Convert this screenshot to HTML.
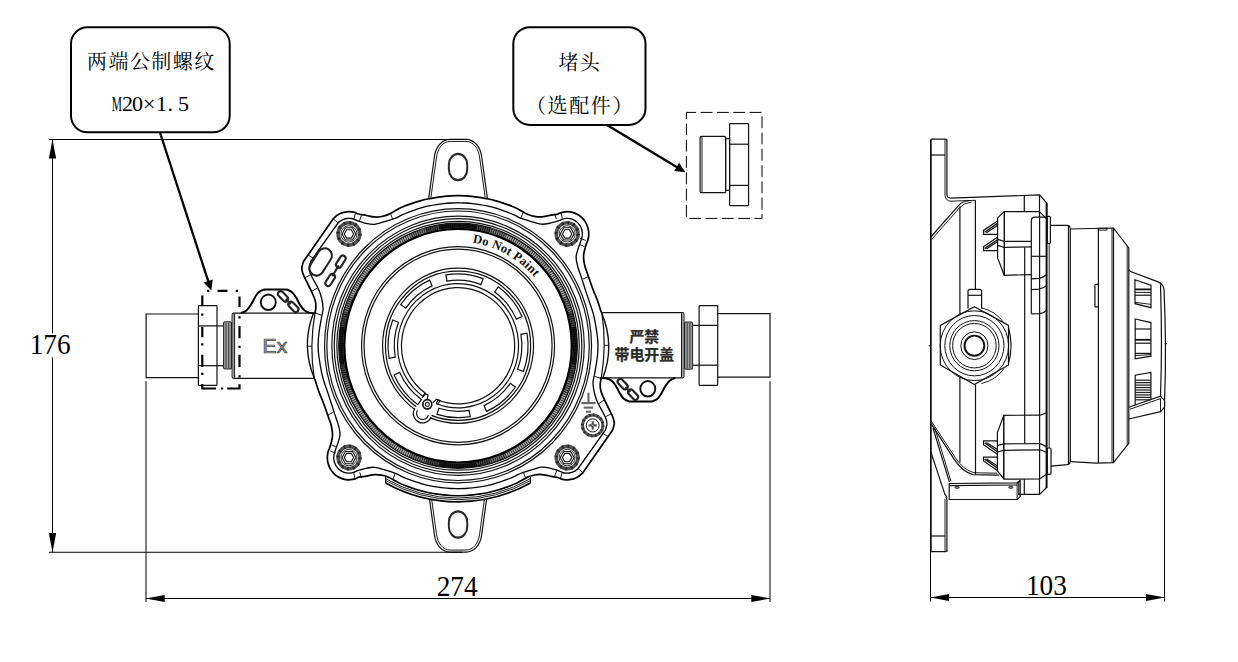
<!DOCTYPE html>
<html lang="zh"><head><meta charset="utf-8"><title>Outline drawing</title>
<style>
html,body{margin:0;padding:0;background:#fff}
body{width:1238px;height:662px;overflow:hidden}
svg{display:block}
.l{fill:none;stroke:#111;stroke-width:1.2}
.t{fill:none;stroke:#111;stroke-width:.95}
.h{fill:none;stroke:#000;stroke-width:1.7}
.w{fill:#fff;stroke:#111;stroke-width:1.2}
.k{fill:#000;stroke:none}
.dim{fill:none;stroke:#000;stroke-width:1}
.bx{fill:#fff;stroke:#000;stroke-width:2}
.ld{fill:none;stroke:#000;stroke-width:2.3}
.cn{font-family:"Liberation Serif","Noto Serif CJK SC",serif;font-size:20px;fill:#000;font-weight:400}
.num{font-family:"Liberation Serif",serif;font-size:27.3px;fill:#000}
</style></head><body>
<svg width="1238" height="662" viewBox="0 0 1238 662">
<rect x="0" y="0" width="1238" height="662" fill="#fff"/>
<g id="front" transform="translate(458.05 345.75) scale(1 1.0270)">
<path class="h" d="M0 -146.1C1.27 -146.07 5.1 -146.03 7.65 -145.9C10.19 -145.77 12.74 -145.57 15.27 -145.3C17.81 -145.03 20.34 -144.7 22.86 -144.3C25.37 -143.9 27.88 -143.44 30.38 -142.91C32.87 -142.38 35.35 -141.78 37.81 -141.12C40.28 -140.46 42.72 -139.74 45.15 -138.95C47.57 -138.16 49.98 -137.31 52.36 -136.4C54.74 -135.48 56.58 -134.87 59.42 -133.47C62.27 -132.07 66.61 -129.25 69.45 -127.99C72.29 -126.74 74.08 -126.37 76.45 -125.95C78.82 -125.53 81.15 -125.3 83.65 -125.46C86.15 -125.62 88.9 -126.5 91.45 -126.92C94 -127.34 97 -127.51 98.96 -127.97C100.92 -128.43 101.75 -129.27 103.21 -129.68C104.67 -130.09 106.2 -130.36 107.72 -130.46C109.23 -130.55 110.79 -130.49 112.29 -130.26C113.79 -130.04 115.3 -129.65 116.72 -129.11C118.14 -128.57 119.54 -127.87 120.81 -127.05C122.09 -126.23 123.3 -125.25 124.37 -124.17C125.45 -123.1 126.43 -121.89 127.25 -120.61C128.07 -119.34 128.77 -117.94 129.31 -116.52C129.85 -115.1 130.24 -113.59 130.46 -112.09C130.69 -110.59 130.75 -109.03 130.66 -107.52C130.56 -106 130.29 -104.47 129.88 -103.01C129.47 -101.55 128.89 -101.26 128.17 -98.76C127.45 -96.25 125.82 -91.33 125.55 -87.97C125.28 -84.62 125.85 -81.78 126.55 -78.63C127.25 -75.48 128.35 -73.06 129.75 -69.08C131.15 -65.11 133.37 -58.86 134.95 -54.77C136.53 -50.68 137.87 -48.26 139.25 -44.55C140.63 -40.83 142.58 -34.49 143.25 -32.47"/>
<path class="h" d="M0 -146.1C1.27 -146.07 5.1 -146.03 7.65 -145.9C10.19 -145.77 12.74 -145.57 15.27 -145.3C17.81 -145.03 20.34 -144.7 22.86 -144.3C25.37 -143.9 27.88 -143.44 30.38 -142.91C32.87 -142.38 35.35 -141.78 37.81 -141.12C40.28 -140.46 42.72 -139.74 45.15 -138.95C47.57 -138.16 49.98 -137.31 52.36 -136.4C54.74 -135.48 56.58 -134.87 59.42 -133.47C62.27 -132.07 66.61 -129.25 69.45 -127.99C72.29 -126.74 74.08 -126.37 76.45 -125.95C78.82 -125.53 81.15 -125.3 83.65 -125.46C86.15 -125.62 88.9 -126.5 91.45 -126.92C94 -127.34 97 -127.51 98.96 -127.97C100.92 -128.43 101.75 -129.27 103.21 -129.68C104.67 -130.09 106.2 -130.36 107.72 -130.46C109.23 -130.55 110.79 -130.49 112.29 -130.26C113.79 -130.04 115.3 -129.65 116.72 -129.11C118.14 -128.57 119.54 -127.87 120.81 -127.05C122.09 -126.23 123.3 -125.25 124.37 -124.17C125.45 -123.1 126.43 -121.89 127.25 -120.61C128.07 -119.34 128.77 -117.94 129.31 -116.52C129.85 -115.1 130.24 -113.59 130.46 -112.09C130.69 -110.59 130.75 -109.03 130.66 -107.52C130.56 -106 130.29 -104.47 129.88 -103.01C129.47 -101.55 128.89 -101.26 128.17 -98.76C127.45 -96.25 125.82 -91.33 125.55 -87.97C125.28 -84.62 125.85 -81.78 126.55 -78.63C127.25 -75.48 128.35 -73.06 129.75 -69.08C131.15 -65.11 133.37 -58.86 134.95 -54.77C136.53 -50.68 137.87 -48.26 139.25 -44.55C140.63 -40.83 142.58 -34.49 143.25 -32.47" transform="rotate(180)"/>
<path class="l" d="M143.45 -32.28 Q157.45 0 144.45 32.18" style="stroke-width:1.4" />
<path class="l" d="M143.85 -31.68 Q148.85 0 143.05 32.18"/>
<path class="l" d="M143.45 -32.28 Q157.45 0 144.45 32.18" style="stroke-width:1.4" transform="rotate(180)"/>
<path class="l" d="M143.85 -31.68 Q148.85 0 143.05 32.18" transform="rotate(180)"/>
<path class="h" d="M143.05 32.08C142.9 32.94 142.18 35.25 142.15 37.24C142.12 39.24 142.17 41.56 142.85 44.06C143.53 46.56 144.9 49.32 146.25 52.24C147.6 55.16 149.5 58.65 150.95 61.59C152.4 64.52 154.07 67.51 154.95 69.86C155.83 72.22 156.32 73.68 156.25 75.71C156.18 77.73 154.83 80.98 154.55 82.04L124.64 123.9C124.21 124.28 123 125.47 122.1 126.15C121.2 126.83 120.24 127.44 119.24 127.97C118.25 128.5 117.2 128.96 116.13 129.32C115.07 129.69 113.96 129.98 112.85 130.17C111.74 130.37 110.6 130.48 109.48 130.5C108.35 130.52 107.21 130.45 106.09 130.29C104.98 130.13 103.86 129.89 102.78 129.56C101.71 129.23 101.52 128.77 99.63 128.31C97.74 127.86 94.11 127.32 91.45 126.83C88.79 126.33 86.15 125.53 83.65 125.37C81.15 125.2 78.82 125.43 76.45 125.85C74.08 126.27 72.29 126.63 69.45 127.9C66.61 129.17 62.27 132.05 59.42 133.47C56.58 134.89 54.74 135.48 52.36 136.4C49.98 137.31 47.57 138.16 45.15 138.95C42.72 139.74 40.28 140.46 37.81 141.12C35.35 141.78 32.87 142.38 30.38 142.91C27.88 143.44 25.37 143.9 22.86 144.3C20.34 144.7 17.81 145.03 15.27 145.3C12.74 145.57 10.19 145.77 7.65 145.9C5.1 146.03 1.27 146.07 0 146.1"/>
<path class="h" d="M143.05 32.08C142.9 32.94 142.18 35.25 142.15 37.24C142.12 39.24 142.17 41.56 142.85 44.06C143.53 46.56 144.9 49.32 146.25 52.24C147.6 55.16 149.5 58.65 150.95 61.59C152.4 64.52 154.07 67.51 154.95 69.86C155.83 72.22 156.32 73.68 156.25 75.71C156.18 77.73 154.83 80.98 154.55 82.04L124.64 123.9C124.21 124.28 123 125.47 122.1 126.15C121.2 126.83 120.24 127.44 119.24 127.97C118.25 128.5 117.2 128.96 116.13 129.32C115.07 129.69 113.96 129.98 112.85 130.17C111.74 130.37 110.6 130.48 109.48 130.5C108.35 130.52 107.21 130.45 106.09 130.29C104.98 130.13 103.86 129.89 102.78 129.56C101.71 129.23 101.52 128.77 99.63 128.31C97.74 127.86 94.11 127.32 91.45 126.83C88.79 126.33 86.15 125.53 83.65 125.37C81.15 125.2 78.82 125.43 76.45 125.85C74.08 126.27 72.29 126.63 69.45 127.9C66.61 129.17 62.27 132.05 59.42 133.47C56.58 134.89 54.74 135.48 52.36 136.4C49.98 137.31 47.57 138.16 45.15 138.95C42.72 139.74 40.28 140.46 37.81 141.12C35.35 141.78 32.87 142.38 30.38 142.91C27.88 143.44 25.37 143.9 22.86 144.3C20.34 144.7 17.81 145.03 15.27 145.3C12.74 145.57 10.19 145.77 7.65 145.9C5.1 146.03 1.27 146.07 0 146.1" transform="rotate(180)"/>
<path class="h" d="M0 -139.2C1.21 -139.17 4.86 -139.14 7.29 -139.01C9.71 -138.88 12.14 -138.69 14.55 -138.44C16.97 -138.18 19.38 -137.87 21.78 -137.49C24.17 -137.11 26.57 -136.66 28.94 -136.16C31.32 -135.65 33.68 -135.09 36.03 -134.46C38.37 -133.83 40.71 -133.14 43.02 -132.39C45.32 -131.64 47.62 -130.82 49.88 -129.95C52.15 -129.08 54.4 -128.15 56.62 -127.17C58.84 -126.18 59.97 -125.19 63.2 -124.03C66.42 -122.87 72.54 -121.15 75.95 -120.2C79.36 -119.26 80.98 -118.5 83.65 -118.35C86.32 -118.21 89.05 -118.76 91.95 -119.33C94.85 -119.9 98.95 -121.11 101.05 -121.79C103.14 -122.47 103.3 -123.01 104.5 -123.39C105.71 -123.77 106.99 -124.01 108.25 -124.08C109.51 -124.15 110.82 -124.06 112.05 -123.81C113.29 -123.57 114.53 -123.15 115.67 -122.61C116.8 -122.06 117.91 -121.35 118.87 -120.54C119.84 -119.73 120.73 -118.77 121.46 -117.75C122.19 -116.72 122.82 -115.57 123.27 -114.4C123.73 -113.22 124.04 -111.95 124.19 -110.7C124.34 -109.45 124.33 -108.14 124.17 -106.89C124 -105.64 124.18 -106.36 123.19 -103.21C122.21 -100.05 118.86 -92.23 118.25 -87.97C117.64 -83.72 118.63 -81.42 119.55 -77.65C120.47 -73.89 122.45 -69.28 123.75 -65.38C125.05 -61.49 126.2 -57.76 127.35 -54.28C128.5 -50.81 129.28 -48.6 130.65 -44.55C132.02 -40.49 134.13 -35.62 135.55 -29.94C136.97 -24.26 138.42 -15.45 139.15 -10.47C139.88 -5.49 139.95 -3.78 139.95 -0.05C139.95 3.68 139.72 7.34 139.15 11.93C138.58 16.52 137.25 23.53 136.55 27.51C135.85 31.48 135 32.78 134.95 35.78C134.9 38.79 135.5 42.31 136.25 45.52C137 48.73 138.08 51.98 139.45 55.06C140.82 58.15 143.03 61.34 144.45 64.02C145.87 66.7 147.22 69.02 147.95 71.13C148.68 73.24 148.98 74.78 148.85 76.68C148.72 78.58 147.43 81.55 147.15 82.52L120.03 119.46C119.73 119.73 118.85 120.59 118.19 121.08C117.54 121.57 116.84 122.01 116.12 122.38C115.4 122.76 114.63 123.08 113.86 123.34C113.09 123.59 112.28 123.79 111.48 123.91C110.67 124.04 109.85 124.1 109.03 124.1C108.22 124.1 107.39 124.03 106.59 123.89C105.79 123.76 104.99 123.56 104.21 123.29C103.44 123.03 104.01 123 101.96 122.32C99.92 121.64 95 119.91 91.95 119.23C88.9 118.55 86.32 118.11 83.65 118.26C80.98 118.4 79.36 119.15 75.95 120.11C72.54 121.07 66.42 122.85 63.2 124.03C59.97 125.2 58.84 126.18 56.62 127.17C54.4 128.15 52.15 129.08 49.88 129.95C47.62 130.82 45.32 131.64 43.02 132.39C40.71 133.14 38.37 133.83 36.03 134.46C33.68 135.09 31.32 135.65 28.94 136.16C26.57 136.66 24.17 137.11 21.78 137.49C19.38 137.87 16.97 138.18 14.55 138.44C12.14 138.69 9.71 138.88 7.29 139.01C4.86 139.14 1.21 139.17 0 139.2" style="stroke-width:1.3"/>
<path class="h" d="M0 -139.2C1.21 -139.17 4.86 -139.14 7.29 -139.01C9.71 -138.88 12.14 -138.69 14.55 -138.44C16.97 -138.18 19.38 -137.87 21.78 -137.49C24.17 -137.11 26.57 -136.66 28.94 -136.16C31.32 -135.65 33.68 -135.09 36.03 -134.46C38.37 -133.83 40.71 -133.14 43.02 -132.39C45.32 -131.64 47.62 -130.82 49.88 -129.95C52.15 -129.08 54.4 -128.15 56.62 -127.17C58.84 -126.18 59.97 -125.19 63.2 -124.03C66.42 -122.87 72.54 -121.15 75.95 -120.2C79.36 -119.26 80.98 -118.5 83.65 -118.35C86.32 -118.21 89.05 -118.76 91.95 -119.33C94.85 -119.9 98.95 -121.11 101.05 -121.79C103.14 -122.47 103.3 -123.01 104.5 -123.39C105.71 -123.77 106.99 -124.01 108.25 -124.08C109.51 -124.15 110.82 -124.06 112.05 -123.81C113.29 -123.57 114.53 -123.15 115.67 -122.61C116.8 -122.06 117.91 -121.35 118.87 -120.54C119.84 -119.73 120.73 -118.77 121.46 -117.75C122.19 -116.72 122.82 -115.57 123.27 -114.4C123.73 -113.22 124.04 -111.95 124.19 -110.7C124.34 -109.45 124.33 -108.14 124.17 -106.89C124 -105.64 124.18 -106.36 123.19 -103.21C122.21 -100.05 118.86 -92.23 118.25 -87.97C117.64 -83.72 118.63 -81.42 119.55 -77.65C120.47 -73.89 122.45 -69.28 123.75 -65.38C125.05 -61.49 126.2 -57.76 127.35 -54.28C128.5 -50.81 129.28 -48.6 130.65 -44.55C132.02 -40.49 134.13 -35.62 135.55 -29.94C136.97 -24.26 138.42 -15.45 139.15 -10.47C139.88 -5.49 139.95 -3.78 139.95 -0.05C139.95 3.68 139.72 7.34 139.15 11.93C138.58 16.52 137.25 23.53 136.55 27.51C135.85 31.48 135 32.78 134.95 35.78C134.9 38.79 135.5 42.31 136.25 45.52C137 48.73 138.08 51.98 139.45 55.06C140.82 58.15 143.03 61.34 144.45 64.02C145.87 66.7 147.22 69.02 147.95 71.13C148.68 73.24 148.98 74.78 148.85 76.68C148.72 78.58 147.43 81.55 147.15 82.52L120.03 119.46C119.73 119.73 118.85 120.59 118.19 121.08C117.54 121.57 116.84 122.01 116.12 122.38C115.4 122.76 114.63 123.08 113.86 123.34C113.09 123.59 112.28 123.79 111.48 123.91C110.67 124.04 109.85 124.1 109.03 124.1C108.22 124.1 107.39 124.03 106.59 123.89C105.79 123.76 104.99 123.56 104.21 123.29C103.44 123.03 104.01 123 101.96 122.32C99.92 121.64 95 119.91 91.95 119.23C88.9 118.55 86.32 118.11 83.65 118.26C80.98 118.4 79.36 119.15 75.95 120.11C72.54 121.07 66.42 122.85 63.2 124.03C59.97 125.2 58.84 126.18 56.62 127.17C54.4 128.15 52.15 129.08 49.88 129.95C47.62 130.82 45.32 131.64 43.02 132.39C40.71 133.14 38.37 133.83 36.03 134.46C33.68 135.09 31.32 135.65 28.94 136.16C26.57 136.66 24.17 137.11 21.78 137.49C19.38 137.87 16.97 138.18 14.55 138.44C12.14 138.69 9.71 138.88 7.29 139.01C4.86 139.14 1.21 139.17 0 139.2" style="stroke-width:1.3" transform="rotate(180)"/>
<line class="t" x1="65.35" y1="-130.43" x2="62.95" y2="-124.49"/>
<line class="t" x1="-65.35" y1="130.43" x2="-62.95" y2="124.49"/>
<line class="t" x1="96.55" y1="-128.68" x2="98.35" y2="-123.22"/>
<line class="t" x1="-96.55" y1="128.68" x2="-98.35" y2="123.22"/>
<line class="t" x1="102.85" y1="-130.23" x2="104.25" y2="-124"/>
<line class="t" x1="-102.85" y1="130.23" x2="-104.25" y2="124"/>
<line class="t" x1="127.85" y1="-102.48" x2="122.15" y2="-104.53"/>
<line class="t" x1="-127.85" y1="102.48" x2="-122.15" y2="104.53"/>
<line class="t" x1="126.35" y1="-96.54" x2="120.95" y2="-98.88"/>
<line class="t" x1="-126.35" y1="96.54" x2="-120.95" y2="98.88"/>
<line class="t" x1="130.55" y1="-67.43" x2="124.55" y2="-64.8"/>
<line class="t" x1="-130.55" y1="67.43" x2="-124.55" y2="64.8"/>
<line class="t" x1="150.55" y1="-0.44" x2="146.35" y2="-0.44"/>
<line class="t" x1="-150.55" y1="0.44" x2="-146.35" y2="0.44"/>
<line class="t" x1="143.15" y1="31.99" x2="136.35" y2="29.65"/>
<line class="t" x1="-143.15" y1="-31.99" x2="-136.35" y2="-29.65"/>
<line class="t" x1="146.55" y1="52.63" x2="140.25" y2="56.62"/>
<line class="t" x1="-146.55" y1="-52.63" x2="-140.25" y2="-56.62"/>
<line class="t" x1="153.45" y1="66.16" x2="146.95" y2="69.38"/>
<line class="t" x1="-153.45" y1="-66.16" x2="-146.95" y2="-69.38"/>
<line class="t" x1="149.95" y1="88.36" x2="143.45" y2="84.57"/>
<line class="t" x1="-149.95" y1="-88.36" x2="-143.45" y2="-84.57"/>
<line class="t" x1="124.45" y1="123.32" x2="120.15" y2="119.62"/>
<line class="t" x1="-124.45" y1="-123.32" x2="-120.15" y2="-119.62"/>
<line class="t" x1="102.55" y1="128.97" x2="104.25" y2="122.93"/>
<line class="t" x1="-102.55" y1="-128.97" x2="-104.25" y2="-122.93"/>
<line class="t" x1="96.55" y1="127.22" x2="98.55" y2="121.57"/>
<line class="t" x1="-96.55" y1="-127.22" x2="-98.55" y2="-121.57"/>
<line class="t" x1="65.15" y1="122.83" x2="67.55" y2="128.58"/>
<line class="t" x1="-65.15" y1="-122.83" x2="-67.55" y2="-128.58"/>
<path class="l" d="M-29.35 -143.48 L-23.75 -183.3C-22.6 -193.93 -16 -200.93 -8 -200.93L8 -200.93C16 -200.93 22.6 -193.93 23.75 -183.3L29.35 -143.48"/>
<path class="t" d="M-27.15 -144.26 L-21.65 -182.81C-20.6 -192.43 -15 -198.93 -8 -198.93L8 -198.93C15 -198.93 20.6 -192.43 21.65 -182.81L27.15 -144.26"/>
<rect class="l" style="stroke-width:2;stroke:#2a2a2a" x="-9.2" y="-186.85" width="18.4" height="25.6" rx="9.2" ry="10.5" />
<path class="l" d="M-29.35 -143.48 L-23.75 -183.3C-22.6 -193.93 -16 -200.93 -8 -200.93L8 -200.93C16 -200.93 22.6 -193.93 23.75 -183.3L29.35 -143.48" transform="rotate(180)"/>
<path class="t" d="M-27.15 -144.26 L-21.65 -182.81C-20.6 -192.43 -15 -198.93 -8 -198.93L8 -198.93C15 -198.93 20.6 -192.43 21.65 -182.81L27.15 -144.26" transform="rotate(180)"/>
<rect class="l" style="stroke-width:2;stroke:#2a2a2a" x="-9.2" y="-186.85" width="18.4" height="25.6" rx="9.2" ry="10.5" transform="rotate(180)"/>
<path class="k" d="M72.4 133.54 A151.9 151.9 0 0 1 -72.4 133.54 L-72.4 127.93 A147 147 0 0 0 72.4 127.93 Z" style="fill:#fff"/>
<path class="t" d="M72.4 129.43 A148.3 148.3 0 0 1 -72.4 129.43"/>
<path class="t" d="M72.4 131.26 A149.9 149.9 0 0 1 -72.4 131.26"/>
<path class="h" d="M72.4 133.54 A151.9 151.9 0 0 1 -72.4 133.54"/>
<line class="l" x1="72.4" y1="126.9" x2="72.4" y2="133.94"/>
<line class="l" x1="-72.4" y1="126.9" x2="-72.4" y2="133.94"/>
<circle class="l" cx="0" cy="0" r="133.5"/>
<circle class="l" cx="0" cy="0" r="131.2"/>
<circle class="l" cx="0" cy="0" r="126.2"/>
<circle class="l" cx="0" cy="0" r="123.8"/>
<circle class="l" cx="0" cy="0" r="121.2"/>
<circle class="l" cx="0" cy="0" r="117.1" style="stroke:#a8a8a8;stroke-width:4.4"/>
<circle class="l" cx="0" cy="0" r="117.1" style="stroke:#2a2a2a;stroke-width:4.4;stroke-dasharray:0.8 1.4"/>
<path class="l" d="M-47.63 -106.98 A117.1 117.1 0 0 1 47.63 -106.98" style="stroke:#000;stroke-width:4.4;opacity:0.3"/>
<path class="l" d="M-32.28 -112.56 A117.1 117.1 0 0 1 32.28 -112.56" style="stroke:#000;stroke-width:4.4;opacity:0.4"/>
<path class="l" d="M-18.32 -115.66 A117.1 117.1 0 0 1 18.32 -115.66" style="stroke:#000;stroke-width:4.4;opacity:0.7"/>
<path class="l" d="M106.98 -47.63 A117.1 117.1 0 0 1 106.98 47.63" style="stroke:#000;stroke-width:4.4;opacity:0.3"/>
<path class="l" d="M112.56 -32.28 A117.1 117.1 0 0 1 112.56 32.28" style="stroke:#000;stroke-width:4.4;opacity:0.4"/>
<path class="l" d="M115.66 -18.32 A117.1 117.1 0 0 1 115.66 18.32" style="stroke:#000;stroke-width:4.4;opacity:0.7"/>
<path class="l" d="M47.63 106.98 A117.1 117.1 0 0 1 -47.63 106.98" style="stroke:#000;stroke-width:4.4;opacity:0.3"/>
<path class="l" d="M32.28 112.56 A117.1 117.1 0 0 1 -32.28 112.56" style="stroke:#000;stroke-width:4.4;opacity:0.4"/>
<path class="l" d="M18.32 115.66 A117.1 117.1 0 0 1 -18.32 115.66" style="stroke:#000;stroke-width:4.4;opacity:0.7"/>
<path class="l" d="M-106.98 47.63 A117.1 117.1 0 0 1 -106.98 -47.63" style="stroke:#000;stroke-width:4.4;opacity:0.3"/>
<path class="l" d="M-112.56 32.28 A117.1 117.1 0 0 1 -112.56 -32.28" style="stroke:#000;stroke-width:4.4;opacity:0.4"/>
<path class="l" d="M-115.66 18.32 A117.1 117.1 0 0 1 -115.66 -18.32" style="stroke:#000;stroke-width:4.4;opacity:0.7"/>
<circle class="l" cx="0" cy="0" r="119.3"/>
<circle class="l" cx="0" cy="0" r="113.8" style="stroke:#000;stroke-width:2.4"/>
<circle class="l" cx="0" cy="0" r="96.5"/>
<circle class="l" cx="0" cy="0" r="94"/>
<circle class="l" cx="0" cy="0" r="75.5"/>
<circle class="l" cx="0" cy="0" r="72.6"/>
<path class="l" d="M-34.7 49.56 A60.5 60.5 0 1 1 -21.68 56.48"/>
<path class="l" d="M-32.46 46.36 A56.6 56.6 0 1 1 -20.28 52.84"/>
<path class="l" d="M-12.16 -68.94 A70 70 0 0 1 25.09 -65.35 L22.86 -59.56 A63.8 63.8 0 0 0 -11.08 -62.83 Z"/>
<path class="l" d="M40.15 -57.34 A70 70 0 0 1 63.95 -28.47 L58.28 -25.95 A63.8 63.8 0 0 0 36.59 -52.26 Z"/>
<path class="l" d="M68.94 -12.16 A70 70 0 0 1 65.35 25.09 L59.56 22.86 A63.8 63.8 0 0 0 62.83 -11.08 Z"/>
<path class="l" d="M57.34 40.15 A70 70 0 0 1 28.47 63.95 L25.95 58.28 A63.8 63.8 0 0 0 52.26 36.59 Z"/>
<path class="l" d="M12.16 68.94 A70 70 0 0 1 -21.05 66.76 L-19.19 60.85 A63.8 63.8 0 0 0 11.08 62.83 Z"/>
<path class="l" d="M-40.15 57.34 A70 70 0 0 1 -63.95 28.47 L-58.28 25.95 A63.8 63.8 0 0 0 -36.59 52.26 Z"/>
<path class="l" d="M-68.94 12.16 A70 70 0 0 1 -65.35 -25.09 L-59.56 -22.86 A63.8 63.8 0 0 0 -62.83 11.08 Z"/>
<path class="l" d="M-57.34 -40.15 A70 70 0 0 1 -28.47 -63.95 L-25.95 -58.28 A63.8 63.8 0 0 0 -52.26 -36.59 Z"/>
<circle class="k" cx="-35.45" cy="65.87" r="9.3" style="fill:#fff"/>
<path class="l" d="M-43.16 60.67 A9.3 9.3 0 1 0 -26.83 69.36"/>
<path class="l" d="M-40.65 62.87 A6 6 0 1 0 -29.68 67.53"/>
<line class="l" x1="-32.46" y1="46.36" x2="-34.7" y2="49.56"/>
<line class="l" x1="-20.28" y1="52.84" x2="-21.68" y2="56.48"/>
<circle class="w" cx="-30.75" cy="57.01" r="4.5" style="stroke-width:1.7"/>
<circle class="l" cx="-30.75" cy="57.01" r="2" style="stroke-width:1"/>
<path class="l" d="M-35.95 50.81 l2.6 -4.2 l3.2 1.2 l-0.6 5.2"/>
<path class="l" d="M-25.15 55.61 l3.6 -3.6 l3.6 1.4 l-2.6 3.8"/>
<circle class="l" cx="109.1" cy="-108.9" r="10.9" style="stroke:#505050;stroke-width:3.5"/>
<circle class="l" cx="109.1" cy="-108.9" r="10.9" style="stroke:#262626;stroke-width:3.5;stroke-dasharray:1.7 4.007"/>
<circle class="w" cx="109.1" cy="-108.9" r="8" style="stroke-width:.85"/>
<path class="l" d="M116 -108.9L112.55 -102.92L105.65 -102.92L102.2 -108.9L105.65 -114.88L112.55 -114.88Z" style="stroke-width:1.1"/>
<path class="l" d="M113.8 -108.9L111.45 -104.83L106.75 -104.83L104.4 -108.9L106.75 -112.97L111.45 -112.97Z" style="stroke-width:1.1"/>
<circle class="l" cx="109.1" cy="108.9" r="10.9" style="stroke:#505050;stroke-width:3.5"/>
<circle class="l" cx="109.1" cy="108.9" r="10.9" style="stroke:#262626;stroke-width:3.5;stroke-dasharray:1.7 4.007"/>
<circle class="w" cx="109.1" cy="108.9" r="8" style="stroke-width:.85"/>
<path class="l" d="M116 108.9L112.55 114.88L105.65 114.88L102.2 108.9L105.65 102.92L112.55 102.92Z" style="stroke-width:1.1"/>
<path class="l" d="M113.8 108.9L111.45 112.97L106.75 112.97L104.4 108.9L106.75 104.83L111.45 104.83Z" style="stroke-width:1.1"/>
<circle class="l" cx="-109.1" cy="-108.9" r="10.9" style="stroke:#505050;stroke-width:3.5"/>
<circle class="l" cx="-109.1" cy="-108.9" r="10.9" style="stroke:#262626;stroke-width:3.5;stroke-dasharray:1.7 4.007"/>
<circle class="w" cx="-109.1" cy="-108.9" r="8" style="stroke-width:.85"/>
<path class="l" d="M-102.2 -108.9L-105.65 -102.92L-112.55 -102.92L-116 -108.9L-112.55 -114.88L-105.65 -114.88Z" style="stroke-width:1.1"/>
<path class="l" d="M-104.4 -108.9L-106.75 -104.83L-111.45 -104.83L-113.8 -108.9L-111.45 -112.97L-106.75 -112.97Z" style="stroke-width:1.1"/>
<circle class="l" cx="-109.1" cy="108.9" r="10.9" style="stroke:#505050;stroke-width:3.5"/>
<circle class="l" cx="-109.1" cy="108.9" r="10.9" style="stroke:#262626;stroke-width:3.5;stroke-dasharray:1.7 4.007"/>
<circle class="w" cx="-109.1" cy="108.9" r="8" style="stroke-width:.85"/>
<path class="l" d="M-102.2 108.9L-105.65 114.88L-112.55 114.88L-116 108.9L-112.55 102.92L-105.65 102.92Z" style="stroke-width:1.1"/>
<path class="l" d="M-104.4 108.9L-106.75 112.97L-111.45 112.97L-113.8 108.9L-111.45 104.83L-106.75 104.83Z" style="stroke-width:1.1"/>
<path class="l" d="M-259.65 -30.92L-311.95 -30.92L-311.95 30.96L-259.65 30.96"/>
<rect class="l" x="-259.65" y="-39" width="18.6" height="77.6" rx="0.8"/>
<line class="l" x1="-259.65" y1="-19.33" x2="-234.45" y2="-19.33"/>
<line class="l" x1="-259.65" y1="19.43" x2="-234.45" y2="19.43"/>
<rect class="l" x="-234.45" y="-23.22" width="8" height="45.76" rx="1.4" style="stroke:#333;fill:#dcdcdc"/>
<line class="l" x1="-232.85" y1="-22.62" x2="-232.85" y2="21.94" style="stroke:#3a3a3a;stroke-width:.95"/>
<line class="l" x1="-231.25" y1="-22.62" x2="-231.25" y2="21.94" style="stroke:#3a3a3a;stroke-width:.95"/>
<line class="l" x1="-229.65" y1="-22.62" x2="-229.65" y2="21.94" style="stroke:#3a3a3a;stroke-width:.95"/>
<line class="l" x1="-228.05" y1="-22.62" x2="-228.05" y2="21.94" style="stroke:#3a3a3a;stroke-width:.95"/>
<path class="l" d="M-141.75 -31.69 L-224.35 -31.69 Q-225.85 -31.69 -225.85 -30.19 L-225.85 30.29 Q-225.85 31.79 -224.35 31.79 L-143.45 31.79"/>
<rect class="k" x="-225.55" y="-30.89" width="2.1" height="61.89" style="fill:#9a9a9a"/>
<line class="t" x1="-223.45" y1="-31.19" x2="-223.45" y2="31.29"/>
<path class="h" d="M-217.25 -31.69C-216.3 -32.15 -213.23 -33.04 -211.55 -34.42C-209.87 -35.8 -208.62 -37.75 -207.15 -39.97C-205.68 -42.19 -204.08 -45.7 -202.75 -47.76C-201.42 -49.82 -200.53 -51.22 -199.15 -52.34C-197.77 -53.46 -195.72 -54.09 -194.45 -54.48C-193.18 -54.87 -192.03 -54.64 -191.55 -54.67L-173.55 -54.67C-173.07 -54.64 -171.95 -54.93 -170.65 -54.48C-169.35 -54.02 -167.18 -53.18 -165.75 -51.95C-164.32 -50.71 -163.38 -49.19 -162.05 -47.08C-160.72 -44.97 -159.2 -41.42 -157.75 -39.29C-156.3 -37.16 -154.8 -35.49 -153.35 -34.32C-151.9 -33.15 -150.53 -32.72 -149.05 -32.28C-147.57 -31.84 -145.22 -31.79 -144.45 -31.69" style="stroke-width:1.95"/>
<circle class="l" cx="-189.75" cy="-42.31" r="7.5" style="stroke-width:1.9"/>
<rect class="l" style="stroke-width:2.1;stroke:#222" x="-177.75" y="-54.05" width="5.4" height="12" rx="2.7" transform="rotate(-45 -175.05 -48.05)"/>
<rect class="l" style="stroke-width:2.1;stroke:#222" x="-167.35" y="-43.83" width="5.4" height="12" rx="2.7" transform="rotate(-45 -164.65 -37.83)"/>
<line class="l" x1="-172.34" y1="-45.39" x2="-167.36" y2="-40.49" style="stroke-width:2.1;stroke:#222"/>
<g transform="rotate(180) translate(0 0.4)">
<path class="l" d="M-259.65 -30.92L-311.95 -30.92L-311.95 30.96L-259.65 30.96"/>
<rect class="l" x="-259.65" y="-39" width="18.6" height="77.6" rx="0.8"/>
<line class="l" x1="-259.65" y1="-19.33" x2="-234.45" y2="-19.33"/>
<line class="l" x1="-259.65" y1="19.43" x2="-234.45" y2="19.43"/>
<rect class="l" x="-234.45" y="-23.22" width="8" height="45.76" rx="1.4" style="stroke:#333;fill:#dcdcdc"/>
<line class="l" x1="-232.85" y1="-22.62" x2="-232.85" y2="21.94" style="stroke:#3a3a3a;stroke-width:.95"/>
<line class="l" x1="-231.25" y1="-22.62" x2="-231.25" y2="21.94" style="stroke:#3a3a3a;stroke-width:.95"/>
<line class="l" x1="-229.65" y1="-22.62" x2="-229.65" y2="21.94" style="stroke:#3a3a3a;stroke-width:.95"/>
<line class="l" x1="-228.05" y1="-22.62" x2="-228.05" y2="21.94" style="stroke:#3a3a3a;stroke-width:.95"/>
<path class="l" d="M-141.75 -31.69 L-224.35 -31.69 Q-225.85 -31.69 -225.85 -30.19 L-225.85 30.29 Q-225.85 31.79 -224.35 31.79 L-143.45 31.79"/>
<rect class="k" x="-225.55" y="-30.89" width="2.1" height="61.89" style="fill:#9a9a9a"/>
<line class="t" x1="-223.45" y1="-31.19" x2="-223.45" y2="31.29"/>
<path class="h" d="M-217.25 -31.69C-216.3 -32.15 -213.23 -33.04 -211.55 -34.42C-209.87 -35.8 -208.62 -37.75 -207.15 -39.97C-205.68 -42.19 -204.08 -45.7 -202.75 -47.76C-201.42 -49.82 -200.53 -51.22 -199.15 -52.34C-197.77 -53.46 -195.72 -54.09 -194.45 -54.48C-193.18 -54.87 -192.03 -54.64 -191.55 -54.67L-173.55 -54.67C-173.07 -54.64 -171.95 -54.93 -170.65 -54.48C-169.35 -54.02 -167.18 -53.18 -165.75 -51.95C-164.32 -50.71 -163.38 -49.19 -162.05 -47.08C-160.72 -44.97 -159.2 -41.42 -157.75 -39.29C-156.3 -37.16 -154.8 -35.49 -153.35 -34.32C-151.9 -33.15 -150.53 -32.72 -149.05 -32.28C-147.57 -31.84 -145.22 -31.79 -144.45 -31.69" style="stroke-width:1.95"/>
<circle class="l" cx="-189.75" cy="-42.31" r="7.5" style="stroke-width:1.9"/>
<rect class="l" style="stroke-width:2.1;stroke:#222" x="-177.75" y="-54.05" width="5.4" height="12" rx="2.7" transform="rotate(-45 -175.05 -48.05)"/>
<rect class="l" style="stroke-width:2.1;stroke:#222" x="-167.35" y="-43.83" width="5.4" height="12" rx="2.7" transform="rotate(-45 -164.65 -37.83)"/>
<line class="l" x1="-172.34" y1="-45.39" x2="-167.36" y2="-40.49" style="stroke-width:2.1;stroke:#222"/>
</g>
<rect class="l" style="stroke-width:2;stroke:#222" x="-144.5" y="-96.14" width="14.2" height="29.09" rx="7.1" transform="rotate(33.28 -137.4 -81.6)"/>
<rect class="l" style="stroke-width:2.1;stroke:#222" x="-120.05" y="-88.44" width="5.6" height="13" rx="2.8" transform="rotate(33.28 -117.25 -81.94)"/>
<rect class="l" style="stroke-width:2.1;stroke:#222" x="-130.65" y="-70.52" width="5.6" height="13" rx="2.8" transform="rotate(33.28 -127.85 -64.02)"/>
<line class="l" x1="-119.44" y1="-78.24" x2="-125.66" y2="-67.72" style="stroke-width:2.1;stroke:#222"/>
<circle class="l" cx="134.65" cy="77.56" r="10.2" style="stroke:#585858;stroke-width:2.9"/>
<circle class="l" cx="134.65" cy="77.56" r="10.2" style="stroke:#2a2a2a;stroke-width:2.9;stroke-dasharray:1.5 2.505"/>
<circle class="w" cx="134.65" cy="77.56" r="6.4" style="stroke-width:.95"/>
<line class="l" x1="130.55" y1="77.56" x2="138.75" y2="77.56" style="stroke-width:2.1;stroke:#4a4a4a"/>
<line class="l" x1="134.65" y1="73.46" x2="134.65" y2="81.66" style="stroke-width:2.1;stroke:#4a4a4a"/>
<circle class="k" cx="134.65" cy="77.56" r="0.7" style="fill:#ddd"/>
<line class="l" x1="130.45" y1="45.64" x2="130.45" y2="55.84" style="stroke:#666;stroke-width:2.1"/>
<line class="l" x1="123.35" y1="55.84" x2="137.55" y2="55.84" style="stroke:#666;stroke-width:2.1"/>
<line class="l" x1="125.75" y1="60.24" x2="135.15" y2="60.24" style="stroke:#666;stroke-width:2.1"/>
<line class="l" x1="127.95" y1="64.24" x2="132.95" y2="64.24" style="stroke:#666;stroke-width:2.1"/>
</g>
<path id="dnp" d="M438.05 243.65 A101.4 104.1 0 0 1 559.45 345.75" fill="none" stroke="none"/>
<text style="font-family:'Liberation Serif',serif;font-weight:700;font-size:12.6px;fill:#111"><textPath href="#dnp" startOffset="34.6" textLength="72.5" lengthAdjust="spacing">Do Not Paint</textPath></text>
<text x="262.6" y="353" style="font-family:'Liberation Sans',sans-serif;font-size:19.5px;fill:#9a9a9a;stroke:#4a4a4a;stroke-width:.7" textLength="24.6" lengthAdjust="spacingAndGlyphs">Ex</text>
<text x="644.3" y="341.7" text-anchor="middle" style="font-family:'Liberation Sans','Noto Sans CJK SC',sans-serif;font-weight:700;font-size:14.9px;fill:#2a2a2a;stroke:#2a2a2a;stroke-width:.25">严禁</text>
<text x="644.3" y="360.4" text-anchor="middle" style="font-family:'Liberation Sans','Noto Sans CJK SC',sans-serif;font-weight:700;font-size:14.9px;fill:#2a2a2a;stroke:#2a2a2a;stroke-width:.25">带电开盖</text>
<g id="side">
<path class="l" d="M930.8 552 L930.8 140 Q930.8 139.1 931.8 139.1 L945.8 139.1 Q946.9 139.1 946.9 140.3 L946.9 194 Q946.9 198.2 951 198.1 L1039.6 194.9 L1046.7 203 L1046.7 216.5"/>
<line class="l" x1="930.8" y1="139.5" x2="930.8" y2="552" style="stroke-width:1.5"/>
<line class="t" x1="945" y1="139.6" x2="945" y2="195"/>
<path class="t" d="M945 195 Q945.4 201 951 201.2 L975.3 200.3"/>
<line class="l" x1="930.8" y1="155" x2="945" y2="155"/>
<path class="l" d="M975.4 200.3 L975.4 289.3"/>
<path class="l" d="M959.9 206.5 L959.9 315"/>
<path class="l" d="M930.8 237 L958.5 205.6 Q962.8 200.8 970 200.5"/>
<path class="t" d="M930.8 240.4 L960 207.2 Q964 203 971.5 202"/>
<line class="l" x1="1024.3" y1="195.5" x2="1024.3" y2="211.6"/>
<line class="l" x1="1039.5" y1="195" x2="1039.5" y2="217.2"/>
<path class="l" d="M1040 211.6 L1004.3 211.6 L997.6 217.9 L997.6 258 L1004.3 275.3 L1031 274.6"/>
<line class="l" x1="1004.3" y1="211.6" x2="1004.3" y2="275.3" style="stroke-width:1.4"/>
<line class="l" x1="1004.3" y1="247.3" x2="1031.4" y2="246.8"/>
<path class="l" d="M997.6 239.4 L1004.3 241.3 L1031.4 241.3"/>
<path class="l" d="M997.6 245.4 L1004.3 247.3"/>
<line class="l" x1="1039.4" y1="211.6" x2="1046.5" y2="218.6"/>
<line class="l" x1="1024.7" y1="247.2" x2="1024.7" y2="443.7"/>
<path class="l" d="M997.4 234.3 L983.5 234.3 L983.5 230.4 L997.4 220.9"/>
<path class="l" d="M984.6 232.3 L997.4 223.4" style="stroke-width:1.3"/>
<path class="l" d="M986.4 232.7 L997.4 225.5" style="stroke-width:1.2"/>
<path class="l" d="M997.4 250.6 L983.5 250.6 L983.5 246.7 L997.4 237.2"/>
<path class="l" d="M984.6 248.6 L997.4 239.7" style="stroke-width:1.3"/>
<path class="l" d="M986.4 249 L997.4 241.8" style="stroke-width:1.2"/>
<path class="l" d="M997.4 440.8 L983.5 440.8 L983.5 444.7 L997.4 454.2"/>
<path class="l" d="M984.6 442.8 L997.4 451.7" style="stroke-width:1.3"/>
<path class="l" d="M986.4 442.4 L997.4 449.6" style="stroke-width:1.2"/>
<path class="l" d="M997.4 457.1 L983.5 457.1 L983.5 461 L997.4 470.5"/>
<path class="l" d="M984.6 459.1 L997.4 468" style="stroke-width:1.3"/>
<path class="l" d="M986.4 458.7 L997.4 465.9" style="stroke-width:1.2"/>
<path class="l" d="M1031.3 313.8 L1031.3 221 Q1031.3 217.2 1035 217.2 L1047 217.2"/>
<path class="l" d="M1031.3 313.8 L1040 313.6 Q1044 313 1046.4 310.5"/>
<path class="l" d="M1031.3 256.3 L1046.5 256.3"/>
<path class="l" d="M1031.3 278.8 L1039 278.4 Q1043.5 277.6 1046.4 274.8"/>
<path class="l" d="M1031.3 289.6 L1039 289.2 Q1043.5 288.4 1046.4 285.6"/>
<line class="l" x1="1039.6" y1="217.2" x2="1039.6" y2="479"/>
<line class="l" x1="1046.6" y1="203" x2="1046.6" y2="488" style="stroke-width:2"/>
<line class="t" x1="1049.2" y1="243.5" x2="1049.2" y2="448"/>
<rect class="l" x="1047.3" y="216.3" width="3.1" height="27.2" rx="1"/>
<rect class="l" x="1047.3" y="448" width="3.7" height="26.3" rx="1"/>
<path class="l" d="M1050.4 225.4 L1067 225.3 Q1070.2 225.3 1070.2 228.6"/>
<path class="l" d="M1050.9 466.1 L1067 464.6 Q1070.2 464.2 1070.2 461.8"/>
<line class="l" x1="1068.5" y1="226" x2="1068.5" y2="464.4"/>
<line class="l" x1="1070.3" y1="228.5" x2="1070.3" y2="462"/>
<path class="l" d="M1070.3 229 L1113.4 228 L1128.8 248 L1128.8 443.4 L1113.4 462.6 L1096.2 463.1 L1070.3 461.7"/>
<line class="l" x1="1098.4" y1="228.4" x2="1098.4" y2="463"/>
<line class="t" x1="1112" y1="228.2" x2="1112" y2="462.6"/>
<line class="l" x1="1113.5" y1="228" x2="1113.5" y2="462.6"/>
<line class="t" x1="1127.2" y1="246" x2="1127.2" y2="445.3"/>
<rect class="t" x="1098.4" y="228.2" width="8.6" height="1.9"/>
<path class="l" d="M1098.4 284.3 L1095.8 284.3 Q1094.9 284.3 1094.9 285.3 L1094.9 306 Q1094.9 306.9 1095.8 306.9 L1098.4 306.9"/>
<path class="l" d="M1128.8 269.8 L1130.6 271.6 L1157.5 281.6 Q1163 283.6 1164 289 Q1166.6 345 1164.6 400 L1164.6 407.2 L1160.5 411.7 L1128.8 419"/>
<path class="l" d="M1160.5 284.5 Q1162.4 345 1160.5 396.3"/>
<path class="l" d="M1128.8 407.2 L1160.5 396.3 L1164.4 400.4"/>
<path class="t" d="M1130 409.2 L1160.5 398.6 L1160.5 411.7"/>
<path class="l" d="M1134.9 279.8 L1151 285.3 L1151 307.7 L1135 303.7 Z"/>
<line class="l" x1="1135" y1="289.4" x2="1151" y2="289.4" style="stroke-width:1.8"/>
<line class="t" x1="1135" y1="292.4" x2="1151" y2="292.4"/>
<line class="l" x1="1135" y1="295.2" x2="1151" y2="295.2"/>
<line class="t" x1="1135" y1="302.3" x2="1151" y2="304.4"/>
<path class="l" d="M1135.2 319 L1150.9 322.6 L1150.9 356.2 L1135.2 358.9 Z"/>
<line class="l" x1="1135.2" y1="329" x2="1150.9" y2="329"/>
<line class="l" x1="1135.2" y1="339.8" x2="1150.9" y2="339.8" style="stroke-width:1.8"/>
<line class="l" x1="1135.2" y1="343.2" x2="1150.9" y2="343.2"/>
<line class="l" x1="1135.2" y1="353.4" x2="1150.9" y2="353.4"/>
<line class="t" x1="1135.2" y1="355.6" x2="1150.9" y2="354.6"/>
<path class="l" d="M1135.2 405 L1135.2 375.2 L1150.9 372.5 L1150.9 399.6"/>
<line class="l" x1="1135.2" y1="380.2" x2="1150.9" y2="380.2" style="stroke-width:1.25;stroke:#222"/>
<line class="l" x1="1135.2" y1="382.65" x2="1150.9" y2="382.65" style="stroke-width:1.25;stroke:#222"/>
<line class="l" x1="1135.2" y1="385.1" x2="1150.9" y2="385.1" style="stroke-width:1.25;stroke:#222"/>
<line class="l" x1="1135.2" y1="387.55" x2="1150.9" y2="387.55" style="stroke-width:1.25;stroke:#222"/>
<line class="l" x1="1135.2" y1="390" x2="1150.9" y2="390" style="stroke-width:1.25;stroke:#222"/>
<line class="l" x1="1135.2" y1="392.45" x2="1150.9" y2="392.45" style="stroke-width:1.25;stroke:#222"/>
<line class="l" x1="1135.2" y1="394.9" x2="1150.9" y2="394.9" style="stroke-width:1.25;stroke:#222"/>
<line class="l" x1="1135.2" y1="397.35" x2="1150.9" y2="397.35" style="stroke-width:1.25;stroke:#222"/>
<line class="l" x1="1135.2" y1="399.8" x2="1150.9" y2="399.8" style="stroke-width:1.25;stroke:#222"/>
<line class="t" x1="1164.6" y1="343.6" x2="1167" y2="343.6"/>
<line class="t" x1="928.6" y1="345.7" x2="930.8" y2="345.7"/>
<path class="l" d="M968 308.6 L968 291.3 Q968 289.3 970 289.3 L979.6 289.3 Q981.6 289.3 981.6 291.3 L981.6 308.6"/>
<line class="l" x1="968" y1="295.3" x2="981.6" y2="295.3"/>
<path class="l" d="M974.4 306.7L1008.5 325.4L1008.5 365L974.4 384.6L940.3 365L940.3 325.4Z"/>
<path class="l" d="M1008.5 327.5 Q1013.6 345.7 1008.5 363.4"/>
<path class="t" d="M981.4 307.9 A37.4 38.4 0 0 1 1004 322.9"/>
<path class="t" d="M981.4 383.5 A37.4 38.4 0 0 0 1004 368.5"/>
<ellipse class="l" cx="974.4" cy="345.7" rx="34.2" ry="34.88" style="stroke-width:1"/>
<ellipse class="l" cx="974.4" cy="345.7" rx="29.6" ry="30.19" style="stroke-width:1"/>
<ellipse class="l" cx="974.4" cy="345.7" rx="24.6" ry="25.09" style="stroke-width:1"/>
<ellipse class="l" cx="974.4" cy="345.7" rx="21.8" ry="22.24" style="stroke-width:1"/>
<ellipse class="l" cx="974.4" cy="345.7" rx="13.6" ry="13.87" style="stroke-width:1"/>
<ellipse class="l" cx="974.4" cy="345.7" rx="9.9" ry="10.1" style="stroke-width:1.9"/>
<line class="l" x1="959.9" y1="376.4" x2="959.9" y2="462.4"/>
<line class="l" x1="975.5" y1="384.6" x2="975.5" y2="474.5"/>
<path class="l" d="M930.8 423.1 L953.6 458.3 Q962 471.5 973 474.6 L999 475.1"/>
<path class="t" d="M930.8 420.4 L955 457.2 Q963 469.8 974 472.7 L997.4 473.2"/>
<path class="l" d="M933 428.2 L949.4 482"/>
<path class="t" d="M934.6 427.6 L951 481.4"/>
<path class="l" d="M930.8 451.8 L944.8 494.1 L947.2 497.6"/>
<path class="l" d="M1046.3 412.9 L1040.2 415.2 L1003.8 415.3 L997.4 432.5 L997.4 471 L1003.8 478.9"/>
<line class="l" x1="1003.8" y1="415.3" x2="1003.8" y2="479.2" style="stroke-width:1.5"/>
<path class="l" d="M997.3 445.6 L1003.6 443.8 L1040.2 443.7 L1046.4 446.6"/>
<path class="l" d="M997.3 452 L1003.6 450.3 L1040.2 449.8 L1046.4 452.2"/>
<path class="l" d="M1003.6 479.2 L1039.6 479 L1046.4 474.2"/>
<path class="l" d="M1018.8 481 L1018.8 494.4 L1039.6 494.4 L1046.4 487.8"/>
<line class="l" x1="1024.3" y1="479.1" x2="1024.3" y2="494.4"/>
<line class="l" x1="1039.5" y1="479" x2="1039.5" y2="494.4"/>
<path class="l" d="M949.2 499.5 L949.2 483.5 L1017.1 482.8 L1020.2 480.5 L1020.2 496.5 L1017.1 499.4 Z"/>
<line class="l" x1="949.2" y1="485.6" x2="1017.1" y2="485"/>
<line class="t" x1="1017.1" y1="482.8" x2="1017.1" y2="499.4"/>
<ellipse cx="957.1" cy="487.3" rx="2.3" ry="1.2" fill="#777" stroke="#222" stroke-width=".7"/>
<ellipse cx="1010.8" cy="487.3" rx="2.3" ry="1.2" fill="#777" stroke="#222" stroke-width=".7"/>
<path class="l" d="M946.9 551.5 L946.9 500 Q946.9 498 945.6 497.2"/>
<line class="t" x1="945" y1="499" x2="945" y2="551.5"/>
<path class="l" d="M930.8 551.6 L945.9 551.6 Q946.9 551.6 946.9 550.6"/>
<line class="l" x1="930.8" y1="536" x2="945" y2="536"/>
</g>
<g id="dims">
<line class="dim" x1="49" y1="139.5" x2="466" y2="139.5"/>
<line class="dim" x1="49" y1="552.25" x2="462.5" y2="552.25"/>
<line class="dim" x1="52.5" y1="139.5" x2="52.5" y2="333.3"/>
<line class="dim" x1="52.5" y1="357.6" x2="52.5" y2="552.2"/>
<path class="k" d="M52.5 139.4 L56.15 158.6 L48.85 158.6 Z"/>
<path class="k" d="M52.5 552.3 L48.85 533.1 L56.15 533.1 Z"/>
<text class="num" transform="translate(50.2 354.2) scale(1 1.075)" text-anchor="middle">176</text>
<line class="dim" x1="146" y1="381.2" x2="146" y2="602"/>
<line class="dim" x1="770" y1="381.2" x2="770" y2="602"/>
<line class="dim" x1="146" y1="598.5" x2="770" y2="598.5"/>
<path class="k" d="M145.8 598.5 L164.7 594.9 L164.7 602.1 Z"/>
<path class="k" d="M770.2 598.5 L751.3 602.1 L751.3 594.9 Z"/>
<text class="num" transform="translate(457.2 596) scale(1 1.075)" text-anchor="middle">274</text>
<line class="dim" x1="930.5" y1="552" x2="930.5" y2="601.5"/>
<line class="dim" x1="1164.5" y1="400" x2="1164.5" y2="601.5"/>
<line class="dim" x1="930.5" y1="597.5" x2="1164.5" y2="597.5"/>
<path class="k" d="M930.3 597.5 L949 593.95 L949 601.05 Z"/>
<path class="k" d="M1164.7 597.5 L1146 601.05 L1146 593.95 Z"/>
<text class="num" transform="translate(1046.4 595.4) scale(1 1.075)" text-anchor="middle">103</text>
</g>
<g id="callouts">
<line class="ld" x1="159.5" y1="131" x2="208.46" y2="281.85"/>
<path class="k" d="M211.3 290.6 L203.59 282.38 L212.72 279.42 Z"/>
<line class="ld" x1="606.2" y1="124.6" x2="677.51" y2="167.46"/>
<path class="k" d="M685.4 172.2 L674.18 171.06 L679.13 162.83 Z"/>
<rect class="bx" x="71" y="27.3" width="158.7" height="105" rx="16.5"/>
<text class="cn" x="150.65" y="69.3" text-anchor="middle" textLength="127.2" lengthAdjust="spacing">两端公制螺纹</text>
<text class="cn" y="111.4" text-anchor="middle" style="font-size:22px"><tspan x="116.9" textLength="10.2" lengthAdjust="spacingAndGlyphs">M</tspan><tspan x="127.5">2</tspan><tspan x="137.5">0</tspan><tspan x="149.3">×</tspan><tspan x="161.4">1</tspan><tspan x="170.2">.</tspan><tspan x="183.6">5</tspan></text>
<rect class="bx" x="513.3" y="27.2" width="132.2" height="97.7" rx="16.5"/>
<text class="cn" x="579.1" y="69.6" text-anchor="middle" textLength="41.4" lengthAdjust="spacing">堵头</text>
<text class="cn" x="579.2" y="112.7" text-anchor="middle" textLength="106.5" lengthAdjust="spacing">（选配件）</text>
<path class="l" d="M207.2 290.8L209.4 290.8M217.6 290.8L227.5 290.8M235.8 290.8L238 290.8M239.5 296.5L239.5 307M239.5 316.2L239.5 318.4M239.5 326L239.5 338.2M239.5 345.8L239.5 348M239.5 354.7L239.5 366.9M239.5 375.3L239.5 377.5M239.5 384.3L239.5 389.6M227.3 388.5L239.5 388.5M221 388.5L223.2 388.5M201.2 388.5L216 388.5M202.3 295.6L202.3 306M202.3 313.6L202.3 315.8M202.3 326.9L202.3 337.3M202.3 343.2L202.3 345.4M202.3 354.7L202.3 366.9M202.3 372.7L202.3 374.9M202.3 384L202.3 389.6" style="stroke:#000;stroke-width:2.2"/>
<rect class="l" x="686.4" y="112.4" width="75.6" height="106" style="stroke:#000;stroke-width:1;stroke-dasharray:11.8 4.5;stroke-dashoffset:2"/>
<rect class="l" x="700.1" y="136.3" width="25.5" height="56.4" rx="1.3"/>
<line class="t" x1="702" y1="137" x2="702" y2="192"/>
<rect class="l" x="725.6" y="138.7" width="4" height="51.6"/>
<rect class="l" x="729.6" y="123.6" width="19" height="82" rx="0.8"/>
<line class="l" x1="729.6" y1="144.2" x2="748.6" y2="144.2"/>
<line class="l" x1="729.6" y1="185.4" x2="748.6" y2="185.4"/>
</g>
</svg>
</body></html>
